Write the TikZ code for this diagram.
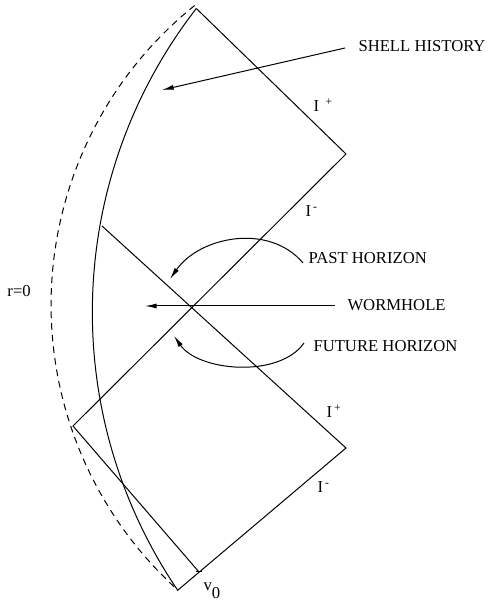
\documentclass[tikz,border=0pt]{standalone}
\usepackage{fontspec}
\setmainfont{Liberation Serif}
\usetikzlibrary{arrows.meta}

\begin{document}
\begin{tikzpicture}[x=0.6pt, y=0.6pt, >={Latex[length=7pt,width=3pt]}, line width=0.6pt,
  lbl/.style={inner sep=0pt, anchor=base west, font=\fontsize{10}{12}\selectfont}]
  \useasboundingbox (0,0) rectangle (487,602);

  \coordinate (T) at (196.3,593.5);
  \coordinate (Td) at (194.7,596.5);
  \coordinate (B) at (178,12);
  \coordinate (R1) at (346,448);
  \coordinate (R2) at (346,154);
  \coordinate (L1) at (102,376);
  \coordinate (LL) at (73,176);
  \coordinate (V0) at (199,30);

  % shell and r=0
  \draw (T) arc[start angle=142.2, end angle=214.2, radius=495.5];
  \draw[dash pattern=on 4pt off 3pt] (Td) arc[start angle=128.75, end angle=227.95, radius=384];

  % null lines
  \draw (T) -- (R1) -- (LL) -- (V0);
  \draw (L1) -- (R2) -- (B);
  \draw (V0) ++(-3,0) -- ++(6,0);

  \node[lbl] (shell) at (358,550) {SHELL HISTORY};
  \node[lbl] (past) at (308,338) {PAST HORIZON};
  \node[lbl] (worm) at (347,291) {WORMHOLE};
  \node[lbl] (future) at (313,250) {FUTURE HORIZON};
  \node[lbl] (scriplusup) at (313,490) {I\hspace{4pt}\textsuperscript{+}};
  \node[lbl] (scriminup) at (305,385) {I\textsuperscript{\,-}};
  \node[lbl] (scriplusdn) at (326,184) {I\textsuperscript{\,+}};
  \node[lbl] (scrimindn) at (317,109) {I\textsuperscript{\,-}};
  \node[lbl] (rzero) at (7,305) {r=0};
  \node[lbl] (vzero) at (203,12) {v\raisebox{-4.8pt}{0}};

  % pointers
  \coordinate (shellfrom) at (345,554);
  \coordinate (shellto) at (162,512);
  \coordinate (pastfrom) at (303,339);
  \coordinate (pastto) at (170,323);
  \coordinate (wormfrom) at (335,296);
  \coordinate (wormto) at (145,296);
  \coordinate (futurefrom) at (304,259);
  \coordinate (futureto) at (174,266);
  \draw[->] (shellfrom) -- (shellto);
  \draw[->] (pastfrom) to[out=130, in=55] (pastto);
  \draw[->] (wormfrom) -- (wormto);
  \draw[->] (futurefrom) to[out=-125, in=-55, looseness=0.85] (futureto);
\end{tikzpicture}
\end{document}
